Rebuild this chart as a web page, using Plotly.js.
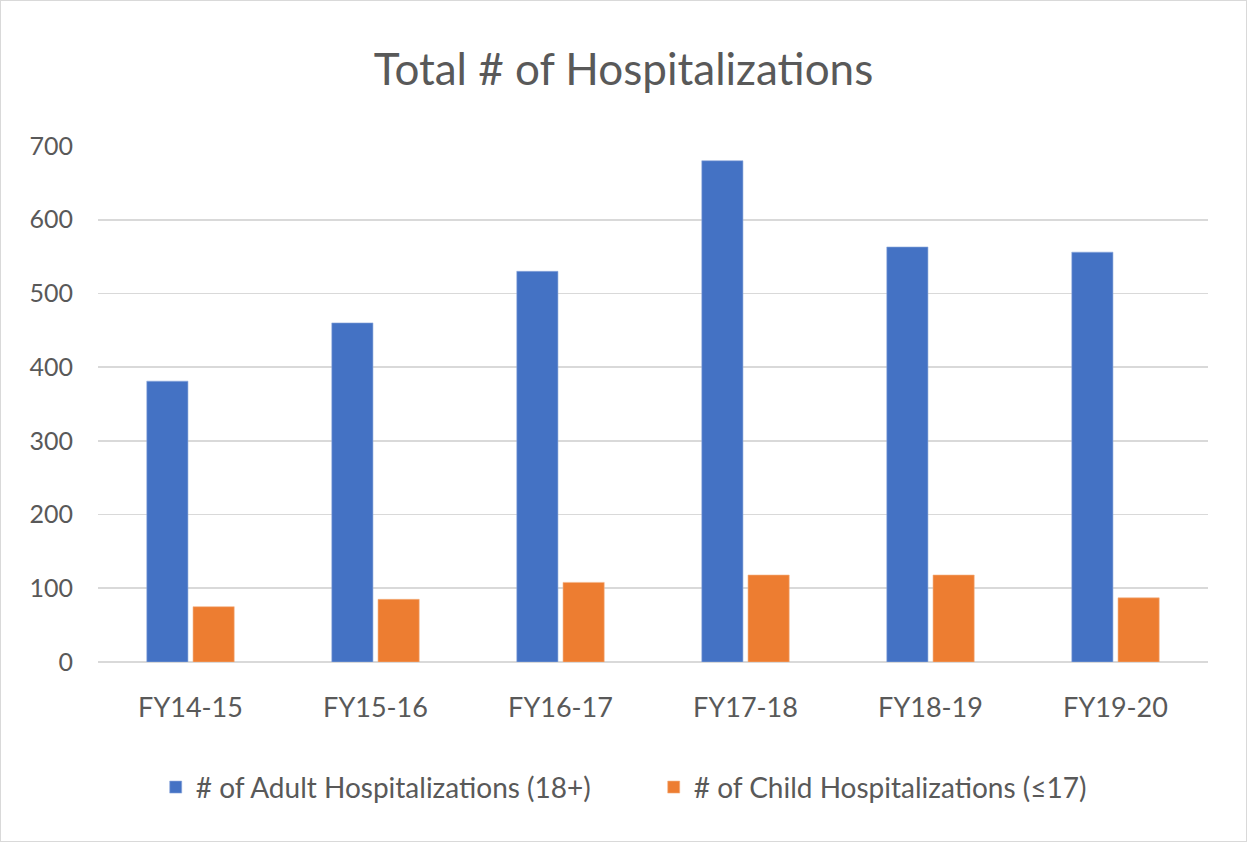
<!DOCTYPE html>
<html>
<head>
<meta charset="utf-8">
<script src="https://cdn.plot.ly/plotly-3.0.1.min.js"></script>
<style>
html,body{margin:0;padding:0;background:#fff;}
#wrap{width:1245px;height:840px;border:1px solid #d9d9d9;}
#chart{width:1245px;height:840px;}
</style>
</head>
<body>
<div id="wrap"><div id="chart"></div></div>
<script>
const categories = ["FY14-15","FY15-16","FY16-17","FY17-18","FY18-19","FY19-20"];
const adultValues = [381, 460, 530, 680, 563, 556];
const childValues = [75, 85, 108, 118, 118, 87];
const seriesNames = ["# of Adult Hospitalizations (18+)", "# of Child Hospitalizations (\u226417)"];
const yTicks = [0,100,200,300,400,500,600,700];

const font = "Lato, 'Open Sans', sans-serif";
const data = [
  {type:"bar", x:categories, y:adultValues, name:seriesNames[0],
   marker:{color:"#4472c4", line:{color:"#8faadc", width:0.6}}},
  {type:"bar", x:categories, y:childValues, name:seriesNames[1],
   marker:{color:"#ed7d31", line:{color:"#f4b183", width:0.6}}}
];
const layout = {
  width:1245, height:840,
  margin:{l:97, r:38, t:145, b:179},
  paper_bgcolor:"#fff", plot_bgcolor:"#fff",
  font:{family:font, color:"#595959"},
  title:{text:"Total # of Hospitalizations", x:0.5, xanchor:"center", yref:"container", y:0.918, yanchor:"middle",
         font:{family:font, size:44, color:"#595959"}},
  barmode:"group", bargap:0.5, bargroupgap:0.11,
  xaxis:{type:"category", showgrid:false, zeroline:false, showline:false,
         ticks:"", tickfont:{family:font, size:27, color:"#595959"}, ticklabelstandoff:27},
  yaxis:{range:[0,700], tickvals:yTicks, showgrid:true, gridcolor:"#d9d9d9", gridwidth:1.6,
         zeroline:true, zerolinecolor:"#d9d9d9", zerolinewidth:1.6, showline:false, ticks:"",
         tickfont:{family:font, size:25, color:"#595959"}, ticklabelstandoff:24},
  showlegend:true,
  legend:{orientation:"h", x:0.052, xanchor:"left", y:-0.243, yanchor:"middle",
          font:{family:font, size:28, color:"#595959"}, itemwidth:30, tracegroupgap:0,
          entrywidth:453, entrywidthmode:"pixels"}
};
Plotly.newPlot("chart", data, layout, {displayModeBar:false, staticPlot:true});
</script>
</body>
</html>
